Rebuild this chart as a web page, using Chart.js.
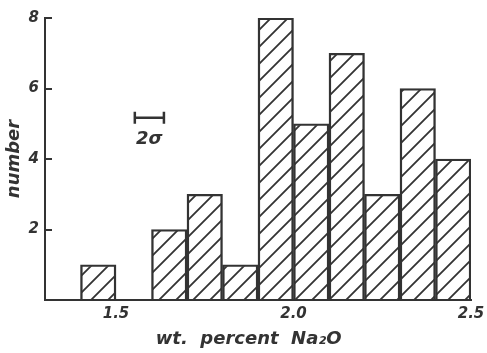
<!DOCTYPE html>
<html>
<head>
<meta charset="utf-8">
<script src="https://cdn.jsdelivr.net/npm/chart.js@4"></script>
<style>
  html, body { margin: 0; padding: 0; background: #fff; }
  #wrap { width: 487px; height: 353px; }
</style>
</head>
<body>
<div id="wrap"><canvas id="hist"></canvas></div>
<script>
// bin centres in wt. % Na2O, each bin 0.1 wide
const binCentres = [1.45, 1.55, 1.65, 1.75, 1.85, 1.95, 2.05, 2.15, 2.25, 2.35, 2.45];
const counts = [1, null, 2, 3, 1, 8, 5, 7, 3, 6, 4];
const xTicks = [1.5, 2.0, 2.5];
const yTicks = [2, 4, 6, 8];
// the 2 sigma bar, in data units
const sigmaFrom = 1.553;
const sigmaTo = 1.635;
const sigmaY = 5.17;
const sigmaLabelY = 4.55;

const ink = '#333';
const family = "'DejaVu Sans', sans-serif";

// diagonal "/" hatching for the bars
function hatch(color) {
    const size = 17;
    const c = document.createElement('canvas');
    c.width = size;
    c.height = size;
    const g = c.getContext('2d');
    g.strokeStyle = color;
    g.lineWidth = 1.8;
    g.beginPath();
    g.moveTo(-2, size + 2); g.lineTo(size + 2, -2);
    g.moveTo(-2, 2); g.lineTo(2, -2);
    g.moveTo(size - 2, size + 2); g.lineTo(size + 2, size - 2);
    g.stroke();
    return g.createPattern(c, 'repeat');
}

// short ticks pointing into the plot, plus the 2 sigma marker
const extras = {
    id: 'extras',
    afterDraw(chart) {
        const { ctx, scales: { x, y } } = chart;
        ctx.save();
        ctx.strokeStyle = ink;
        ctx.lineWidth = 2;
        ctx.beginPath();
        yTicks.forEach(v => {
            const py = Math.round(y.getPixelForValue(v));
            ctx.moveTo(y.right, py);
            ctx.lineTo(y.right + 7, py);
        });
        ctx.stroke();

        const x1 = x.getPixelForValue(sigmaFrom);
        const x2 = x.getPixelForValue(sigmaTo);
        const py = y.getPixelForValue(sigmaY);
        ctx.lineWidth = 2.5;
        ctx.beginPath();
        ctx.moveTo(x1, py); ctx.lineTo(x2, py);
        ctx.moveTo(x1, py - 6); ctx.lineTo(x1, py + 6);
        ctx.moveTo(x2, py - 6); ctx.lineTo(x2, py + 6);
        ctx.stroke();

        ctx.fillStyle = ink;
        ctx.font = 'italic bold 18px ' + family;
        ctx.textAlign = 'center';
        ctx.textBaseline = 'middle';
        ctx.fillText('2σ', (x1 + x2) / 2, y.getPixelForValue(sigmaLabelY));
        ctx.restore();
    }
};

const ctx = document.getElementById('hist').getContext('2d');
new Chart(ctx, {
    type: 'bar',
    data: {
        datasets: [{
            data: binCentres.map((v, i) => ({ x: v, y: counts[i] })),
            backgroundColor: hatch(ink),
            borderColor: ink,
            borderWidth: 1.75,
            borderSkipped: 'start',
            barPercentage: 1,
            categoryPercentage: 1
        }]
    },
    options: {
        responsive: true,
        maintainAspectRatio: false,
        animation: false,
        layout: { padding: { top: 18, right: 16, left: 0, bottom: 0 } },
        plugins: {
            legend: { display: false },
            tooltip: { enabled: false }
        },
        scales: {
            x: {
                type: 'linear',
                min: 1.3,
                max: 2.5,
                offset: false,
                grid: { display: false, drawTicks: false },
                border: { color: ink, width: 2 },
                afterBuildTicks: s => { s.ticks = xTicks.map(v => ({ value: v })); },
                afterFit: s => {
                    s.height = 53;
                    s.paddingLeft = 0;
                    s.paddingRight = 0;
                },
                ticks: {
                    padding: 5,
                    color: ink,
                    font: { family, size: 15, weight: 'bold', style: 'italic' },
                    callback: v => v.toFixed(1)
                },
                title: {
                    display: true,
                    text: 'wt.  percent  Na₂O   ',
                    color: ink,
                    padding: { top: 0, bottom: 3 },
                    font: { family, size: 18, weight: 'bold', style: 'italic' }
                }
            },
            y: {
                min: 0,
                max: 8,
                grid: { display: false, drawTicks: false },
                border: { color: ink, width: 2 },
                afterBuildTicks: s => { s.ticks = yTicks.map(v => ({ value: v })); },
                afterFit: s => {
                    s.width = 45;
                    s.paddingTop = 0;
                    s.paddingBottom = 0;
                },
                ticks: {
                    padding: 6,
                    color: ink,
                    font: { family, size: 15, weight: 'bold', style: 'italic' }
                },
                title: {
                    display: true,
                    text: 'number',
                    color: ink,
                    padding: { top: 4, bottom: 0 },
                    font: { family, size: 18, weight: 'bold', style: 'italic' }
                }
            }
        }
    },
    plugins: [extras]
});
</script>
</body>
</html>
